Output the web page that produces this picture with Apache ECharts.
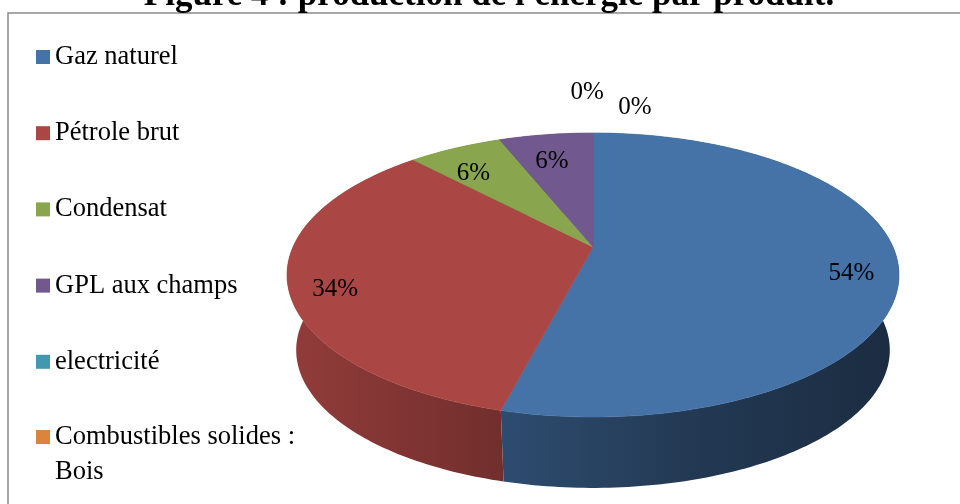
<!DOCTYPE html>
<html>
<head>
<meta charset="utf-8">
<title>production de l'énergie par produit</title>
<script src="https://cdn.jsdelivr.net/npm/echarts@6/dist/echarts.min.js"></script>
<style>
  html, body { margin: 0; padding: 0; background: #fff; }
  #main { width: 960px; height: 504px; }
</style>
</head>
<body>
<div id="main"></div>
<script>
// values (share of the production, %)
var categories = ['Gaz naturel', 'Pétrole brut', 'Condensat', 'GPL aux champs', 'electricité', 'Combustibles solides :\nBois'];
var values = [54, 34, 6, 6, 0, 0];
var colors = ['#4572A7', '#AA4643', '#89A54E', '#71588F', '#4198AF', '#DB843D'];

// the 3d pie is faked: a disc seen from above, with a bit of perspective
var CX = 593, CY = 247;      // where the slices meet
var RX = 300, RY = 136.5;
var PERSP = 0.197;
var DEPTH = 76, BOTTOM_SCALE = 0.97;

var total = values.reduce(function (s, v) { return s + v; }, 0);

function project(theta, r, bottom) {
  var u = Math.sin(theta) * r, v = -Math.cos(theta) * r;
  var w = 1 - PERSP * v;
  var x = RX * u / w, y = RY * v / w;
  if (bottom) {
    x *= BOTTOM_SCALE;
    y = y * BOTTOM_SCALE + DEPTH;
  }
  return [CX + x, CY + y];
}

function arc(a0, a1, bottom) {
  var pts = [];
  var n = Math.max(2, Math.ceil((a1 - a0) / (Math.PI / 180)));
  for (var i = 0; i <= n; i++) {
    pts.push(project(a0 + (a1 - a0) * i / n, 1, bottom));
  }
  return pts;
}

function shade(hex, f) {
  var n = parseInt(hex.slice(1), 16);
  var r = Math.round(((n >> 16) & 255) * f);
  var g = Math.round(((n >> 8) & 255) * f);
  var b = Math.round((n & 255) * f);
  return 'rgb(' + r + ',' + g + ',' + b + ')';
}

function renderSlice(params, api) {
  var start = api.value(0), val = api.value(1), idx = api.value(2), tinyRank = api.value(3);
  var color = colors[idx];
  var a0 = start / total * 2 * Math.PI;
  var a1 = (start + val) / total * 2 * Math.PI;
  var pct = val / total * 100;
  var children = [];

  if (val > 0) {
    var topEdge = arc(a0, a1, false);
    var side = topEdge.concat(arc(a0, a1, true).reverse());
    // side wall, darker to the right
    children.push({
      type: 'polygon',
      z2: 1,
      shape: { points: side },
      style: {
        fill: new echarts.graphic.LinearGradient(287, 0, 899, 0, [
          { offset: 0, color: shade(color, 0.86) },
          { offset: 0.29, color: shade(color, 0.70) },
          { offset: 0.68, color: shade(color, 0.49) },
          { offset: 1, color: shade(color, 0.39) }
        ], true)
      }
    });
    children.push({
      type: 'polygon',
      z2: 10,
      shape: { points: [[CX, CY]].concat(topEdge) },
      style: { fill: color, stroke: color, lineWidth: 0.6 }
    });
  }

  var mid = (a0 + a1) / 2, pos;
  if (tinyRank < 0) {
    pos = project(mid, 0.85, false);
    pos[1] += 12;
  } else {
    // empty slices: labels pushed outside, one after the other
    pos = project(mid + (-1 + 8.8 * tinyRank) * Math.PI / 180, 1.46 - 0.17 * tinyRank, false);
  }
  children.push({
    type: 'text',
    z2: 20,
    x: pos[0],
    y: pos[1],
    style: {
      text: Math.round(pct) + '%',
      font: '25px "Liberation Serif"',
      fill: '#000',
      align: 'center',
      verticalAlign: 'middle',
      textAlign: 'center',
      textVerticalAlign: 'middle'
    }
  });

  return { type: 'group', children: children };
}

var series = [];
var acc = 0, tiny = 0;
categories.forEach(function (name, i) {
  var rank = values[i] / total * 100 < 0.5 ? tiny++ : -1;
  series.push({
    type: 'custom',
    name: name,
    coordinateSystem: 'none',
    renderItem: renderSlice,
    itemStyle: { color: colors[i] },
    data: [[acc, values[i], i, rank]]
  });
  acc += values[i];
});

var legendText = { fontFamily: 'Liberation Serif', fontSize: 26.5, color: '#000' };

var option = {
  animation: false,
  color: colors,
  graphic: [
    {
      type: 'rect',
      silent: true,
      shape: { x: 8, y: 13, width: 970, height: 520 },
      style: { fill: 'none', stroke: '#8a8a8a', lineWidth: 1.5 }
    },
    {
      type: 'text',
      x: 489,
      y: 13,
      style: {
        text: 'Figure 4 : production de l\'énergie par produit.',
        font: 'bold 35px "Liberation Serif"',
        fill: '#000',
        align: 'center',
        verticalAlign: 'bottom',
        textAlign: 'center',
        textVerticalAlign: 'bottom'
      }
    }
  ],
  legend: [
    {
      data: categories.slice(0, 5),
      orient: 'vertical',
      left: 36,
      top: 42,
      padding: 0,
      itemGap: 46.2,
      itemWidth: 14,
      itemHeight: 14,
      icon: 'rect',
      selectedMode: false,
      textStyle: Object.assign({ lineHeight: 30 }, legendText)
    },
    {
      // two-line name: an empty first line keeps the square level with "Combustibles"
      data: categories.slice(5),
      orient: 'vertical',
      left: 36,
      top: 384.5,
      padding: 0,
      itemWidth: 14,
      itemHeight: 14,
      icon: 'rect',
      selectedMode: false,
      formatter: function (name) { return '\n' + name; },
      textStyle: Object.assign({ lineHeight: 35 }, legendText)
    }
  ],
  series: series
};

var chart = echarts.init(document.getElementById('main'));
chart.setOption(option);
</script>
</body>
</html>
